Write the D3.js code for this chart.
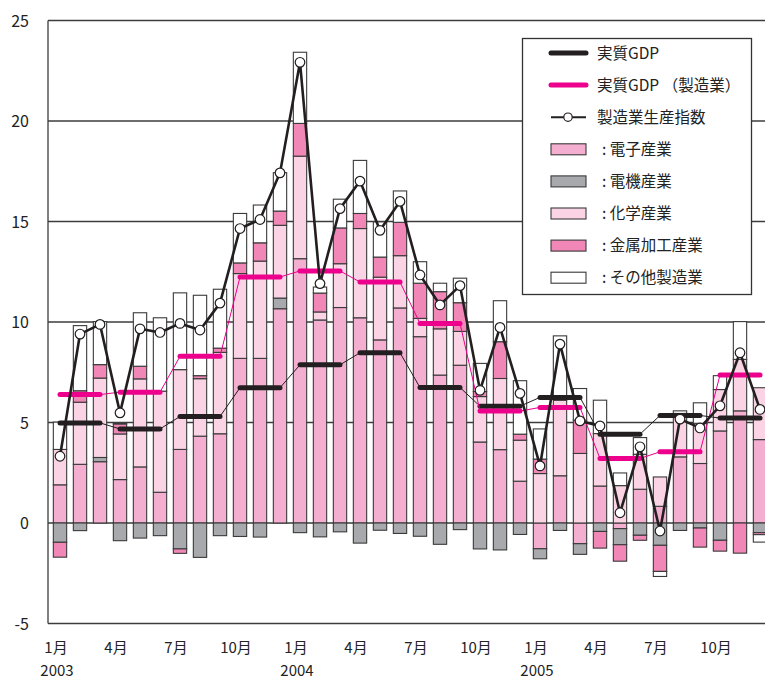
<!DOCTYPE html>
<html><head><meta charset="utf-8">
<script src="https://cdn.jsdelivr.net/npm/d3@7/dist/d3.min.js"></script>
<style>
html,body{margin:0;padding:0;background:#fff;}
svg{display:block;font-family:"Noto Sans CJK JP","Noto Sans",sans-serif;}
</style></head>
<body>
<svg id="c" width="765" height="681"></svg>
<script>
// ---- data ----
const months = d3.range(36); // Jan 2003 .. Dec 2005
const tickMonths = ["1月","4月","7月","10月","1月","4月","7月","10月","1月","4月","7月","10月"];
const tickIdx = [0,3,6,9,12,15,18,21,24,27,30,33];
const yearLabels = ["2003","2004","2005"];
const yearIdx = [0,12,24];
const yTicks = [-5,0,5,10,15,20,25];

const denshi = [1.90,2.92,3.05,2.16,2.79,1.53,3.66,4.32,4.44,8.19,8.19,10.66,
  13.15,10.1,10.72,10.21,9.11,10.70,9.27,7.36,7.85,4.03,3.65,2.08,
  -1.28,2.35,-1.03,1.84,-0.28,1.68,0.83,3.29,2.96,4.58,5.58,4.15];
const denki = [-0.96,-0.38,0.21,-0.88,-0.75,-0.63,-1.29,-1.71,-0.63,-0.67,-0.70,0.53,
  -0.48,-0.69,-0.44,-1.0,-0.36,-0.52,-0.66,-1.06,-0.33,-1.29,-1.34,-0.57,
  -0.50,-0.37,-0.53,-0.42,-0.80,-0.61,-1.11,-0.37,-0.25,-0.86,0,-0.48];
const kagaku = [1.76,3.09,3.95,2.27,4.38,5.03,3.97,2.86,4.05,4.22,4.84,3.62,
  5.10,0.40,2.18,4.44,3.12,2.60,0.91,2.30,1.68,2.26,3.54,2.04,
  2.46,3.76,3.46,2.61,1.86,1.74,1.46,2.16,2.00,2.06,2.56,2.58];
const kinzoku = [-0.74,0.57,0.67,0.50,0.63,0,-0.22,0.15,0.21,0.53,0.91,0.71,
  1.63,0.94,1.78,0.75,1.00,1.66,1.75,1.85,1.43,0.25,1.83,0.30,
  0.72,0.10,1.66,-0.83,-0.82,-0.25,-1.30,0,-0.95,-0.54,-1.50,-0.10];
const sonota = [1.36,3.24,2.14,0.05,2.66,3.65,3.82,4.00,2.93,2.46,1.88,1.91,
  3.54,0.30,1.43,2.64,1.75,1.56,1.07,0.42,1.22,1.40,2.04,2.66,
  1.50,3.10,1.57,1.66,0.63,0.83,-0.25,0.13,1.02,0.69,1.88,-0.37];
const indexVals = [3.32,9.40,9.88,5.48,9.66,9.48,9.93,9.60,10.94,14.65,15.10,17.42,
  22.92,11.91,15.64,17.01,14.56,16.00,12.34,10.85,11.81,6.60,9.73,6.45,
  2.84,8.90,5.08,4.83,0.51,3.79,-0.40,5.17,4.73,5.83,8.47,5.65];
const gdpQ = [4.98,4.68,5.30,6.73,7.87,8.47,6.74,5.81,6.25,4.42,5.35,5.22];
const gdpMfgQ = [6.39,6.51,8.29,12.24,12.54,11.99,9.93,5.57,5.75,3.21,3.54,7.36];

const seriesKeys = ["denshi","denki","kagaku","kinzoku","sonota"];
const seriesNames = ["電子産業","電機産業","化学産業","金属加工産業","その他製造業"];
const seriesColors = ["#f4aed0","#a7a9ac","#fad4e4","#f087b6","#ffffff"];

// ---- layout ----
const svg = d3.select("#c");
const plotL = 48, plotR = 790, plotT = 20.5, plotB = 623.5;
const x = d3.scaleBand().domain(months).range([50,770]).paddingInner(1/3).paddingOuter(1/6);
const y = d3.scaleLinear().domain([-5,25]).range([plotB,plotT]);
const cx = i => x(i) + x.bandwidth()/2;

// gridlines
svg.append("g").selectAll("line").data(yTicks).join("line")
  .attr("x1",plotL).attr("x2",plotR)
  .attr("y1",d=>y(d)).attr("y2",d=>y(d))
  .attr("stroke","#3c3c3c").attr("stroke-width",1.3);
svg.append("line").attr("x1",plotL).attr("x2",plotL).attr("y1",plotT).attr("y2",plotB)
  .attr("stroke","#3c3c3c").attr("stroke-width",1.3);

// y labels
svg.append("g").selectAll("text").data(yTicks).join("text")
  .attr("x",29).attr("y",d=>y(d)+6).attr("text-anchor","end")
  .attr("font-size",16).attr("fill","#222").text(d=>d);

// x labels
svg.append("g").selectAll("text").data(tickIdx).join("text")
  .attr("x",d=>cx(d)-4).attr("y",653).attr("text-anchor","middle")
  .attr("font-size",15).attr("fill","#222").text((d,i)=>tickMonths[i]);
svg.append("g").selectAll("text").data(yearIdx).join("text")
  .attr("x",d=>cx(d)-3).attr("y",676).attr("text-anchor","middle")
  .attr("font-size",15).attr("fill","#222").text((d,i)=>yearLabels[i]);

// stacked bars
const table = months.map(i=>({denshi:denshi[i],denki:denki[i],kagaku:kagaku[i],kinzoku:kinzoku[i],sonota:sonota[i]}));
const stack = d3.stack().keys(seriesKeys).offset(d3.stackOffsetDiverging)(table);
svg.append("g").selectAll("g").data(stack).join("g")
  .attr("fill",(d,i)=>seriesColors[i])
  .selectAll("rect").data(d=>d.map((v,i)=>({v,i})).filter(d=>Math.abs(d.v[1]-d.v[0])>1e-9)).join("rect")
  .attr("x",d=>x(d.i)).attr("width",x.bandwidth())
  .attr("y",d=>y(Math.max(d.v[0],d.v[1])))
  .attr("height",d=>Math.abs(y(d.v[0])-y(d.v[1])))
  .attr("stroke","#3a3a3a").attr("stroke-width",1.1);

// quarterly GDP step lines
function quarterPts(vals){
  const pts=[];
  vals.forEach((v,q)=>{pts.push([cx(q*3),y(v)]);pts.push([cx(q*3+2),y(v)]);});
  return pts;
}
function drawQuarter(vals,color){
  const pts = quarterPts(vals);
  svg.append("path").attr("d",d3.line()(pts)).attr("fill","none")
    .attr("stroke",color).attr("stroke-width",1);
  svg.append("g").selectAll("line").data(vals).join("line")
    .attr("x1",(d,q)=>cx(q*3)).attr("x2",(d,q)=>cx(q*3+2))
    .attr("y1",d=>y(d)).attr("y2",d=>y(d))
    .attr("stroke",color).attr("stroke-width",5).attr("stroke-linecap","round");
}
drawQuarter(gdpQ,"#231f20");
drawQuarter(gdpMfgQ,"#ec008c");

// production index
svg.append("path").datum(indexVals)
  .attr("d",d3.line().x((d,i)=>cx(i)).y(d=>y(d)))
  .attr("fill","none").attr("stroke","#231f20").attr("stroke-width",2.6).attr("stroke-linejoin","round");
svg.append("g").selectAll("circle").data(indexVals).join("circle")
  .attr("cx",(d,i)=>cx(i)).attr("cy",d=>y(d)).attr("r",4.8)
  .attr("fill","#fff").attr("stroke","#231f20").attr("stroke-width",1.2);

// legend
const lg = svg.append("g");
lg.append("rect").attr("x",522.5).attr("y",38.5).attr("width",229).attr("height",256)
  .attr("fill","#fff").attr("stroke","#333").attr("stroke-width",1.3);
const rowY = i => 53 + i*32.1;
const lineItems = [["実質GDP","#231f20"],["実質GDP （製造業）","#ec008c"]];
lineItems.forEach((it,i)=>{
  lg.append("line").attr("x1",551).attr("x2",586).attr("y1",rowY(i)).attr("y2",rowY(i))
    .attr("stroke",it[1]).attr("stroke-width",5).attr("stroke-linecap","round");
  lg.append("text").attr("x",597).attr("y",rowY(i)+5.5).attr("font-size",15.5).attr("fill","#222").text(it[0]);
});
lg.append("line").attr("x1",551).attr("x2",586).attr("y1",rowY(2)).attr("y2",rowY(2))
  .attr("stroke","#231f20").attr("stroke-width",2);
lg.append("circle").attr("cx",568).attr("cy",rowY(2)).attr("r",4.2)
  .attr("fill","#fff").attr("stroke","#231f20").attr("stroke-width",1.2);
lg.append("text").attr("x",597).attr("y",rowY(2)+5.5).attr("font-size",15.5).attr("fill","#222").text("製造業生産指数");
seriesNames.forEach((n,i)=>{
  const yy = rowY(i+3);
  lg.append("rect").attr("x",551).attr("y",yy-5.5).attr("width",35).attr("height",11)
    .attr("fill",seriesColors[i]).attr("stroke","#3a3a3a").attr("stroke-width",1.1);
  lg.append("text").attr("x",602).attr("y",yy+5.5).attr("font-size",15.5).attr("fill","#222").text(": "+n);
});
</script>
</body></html>
